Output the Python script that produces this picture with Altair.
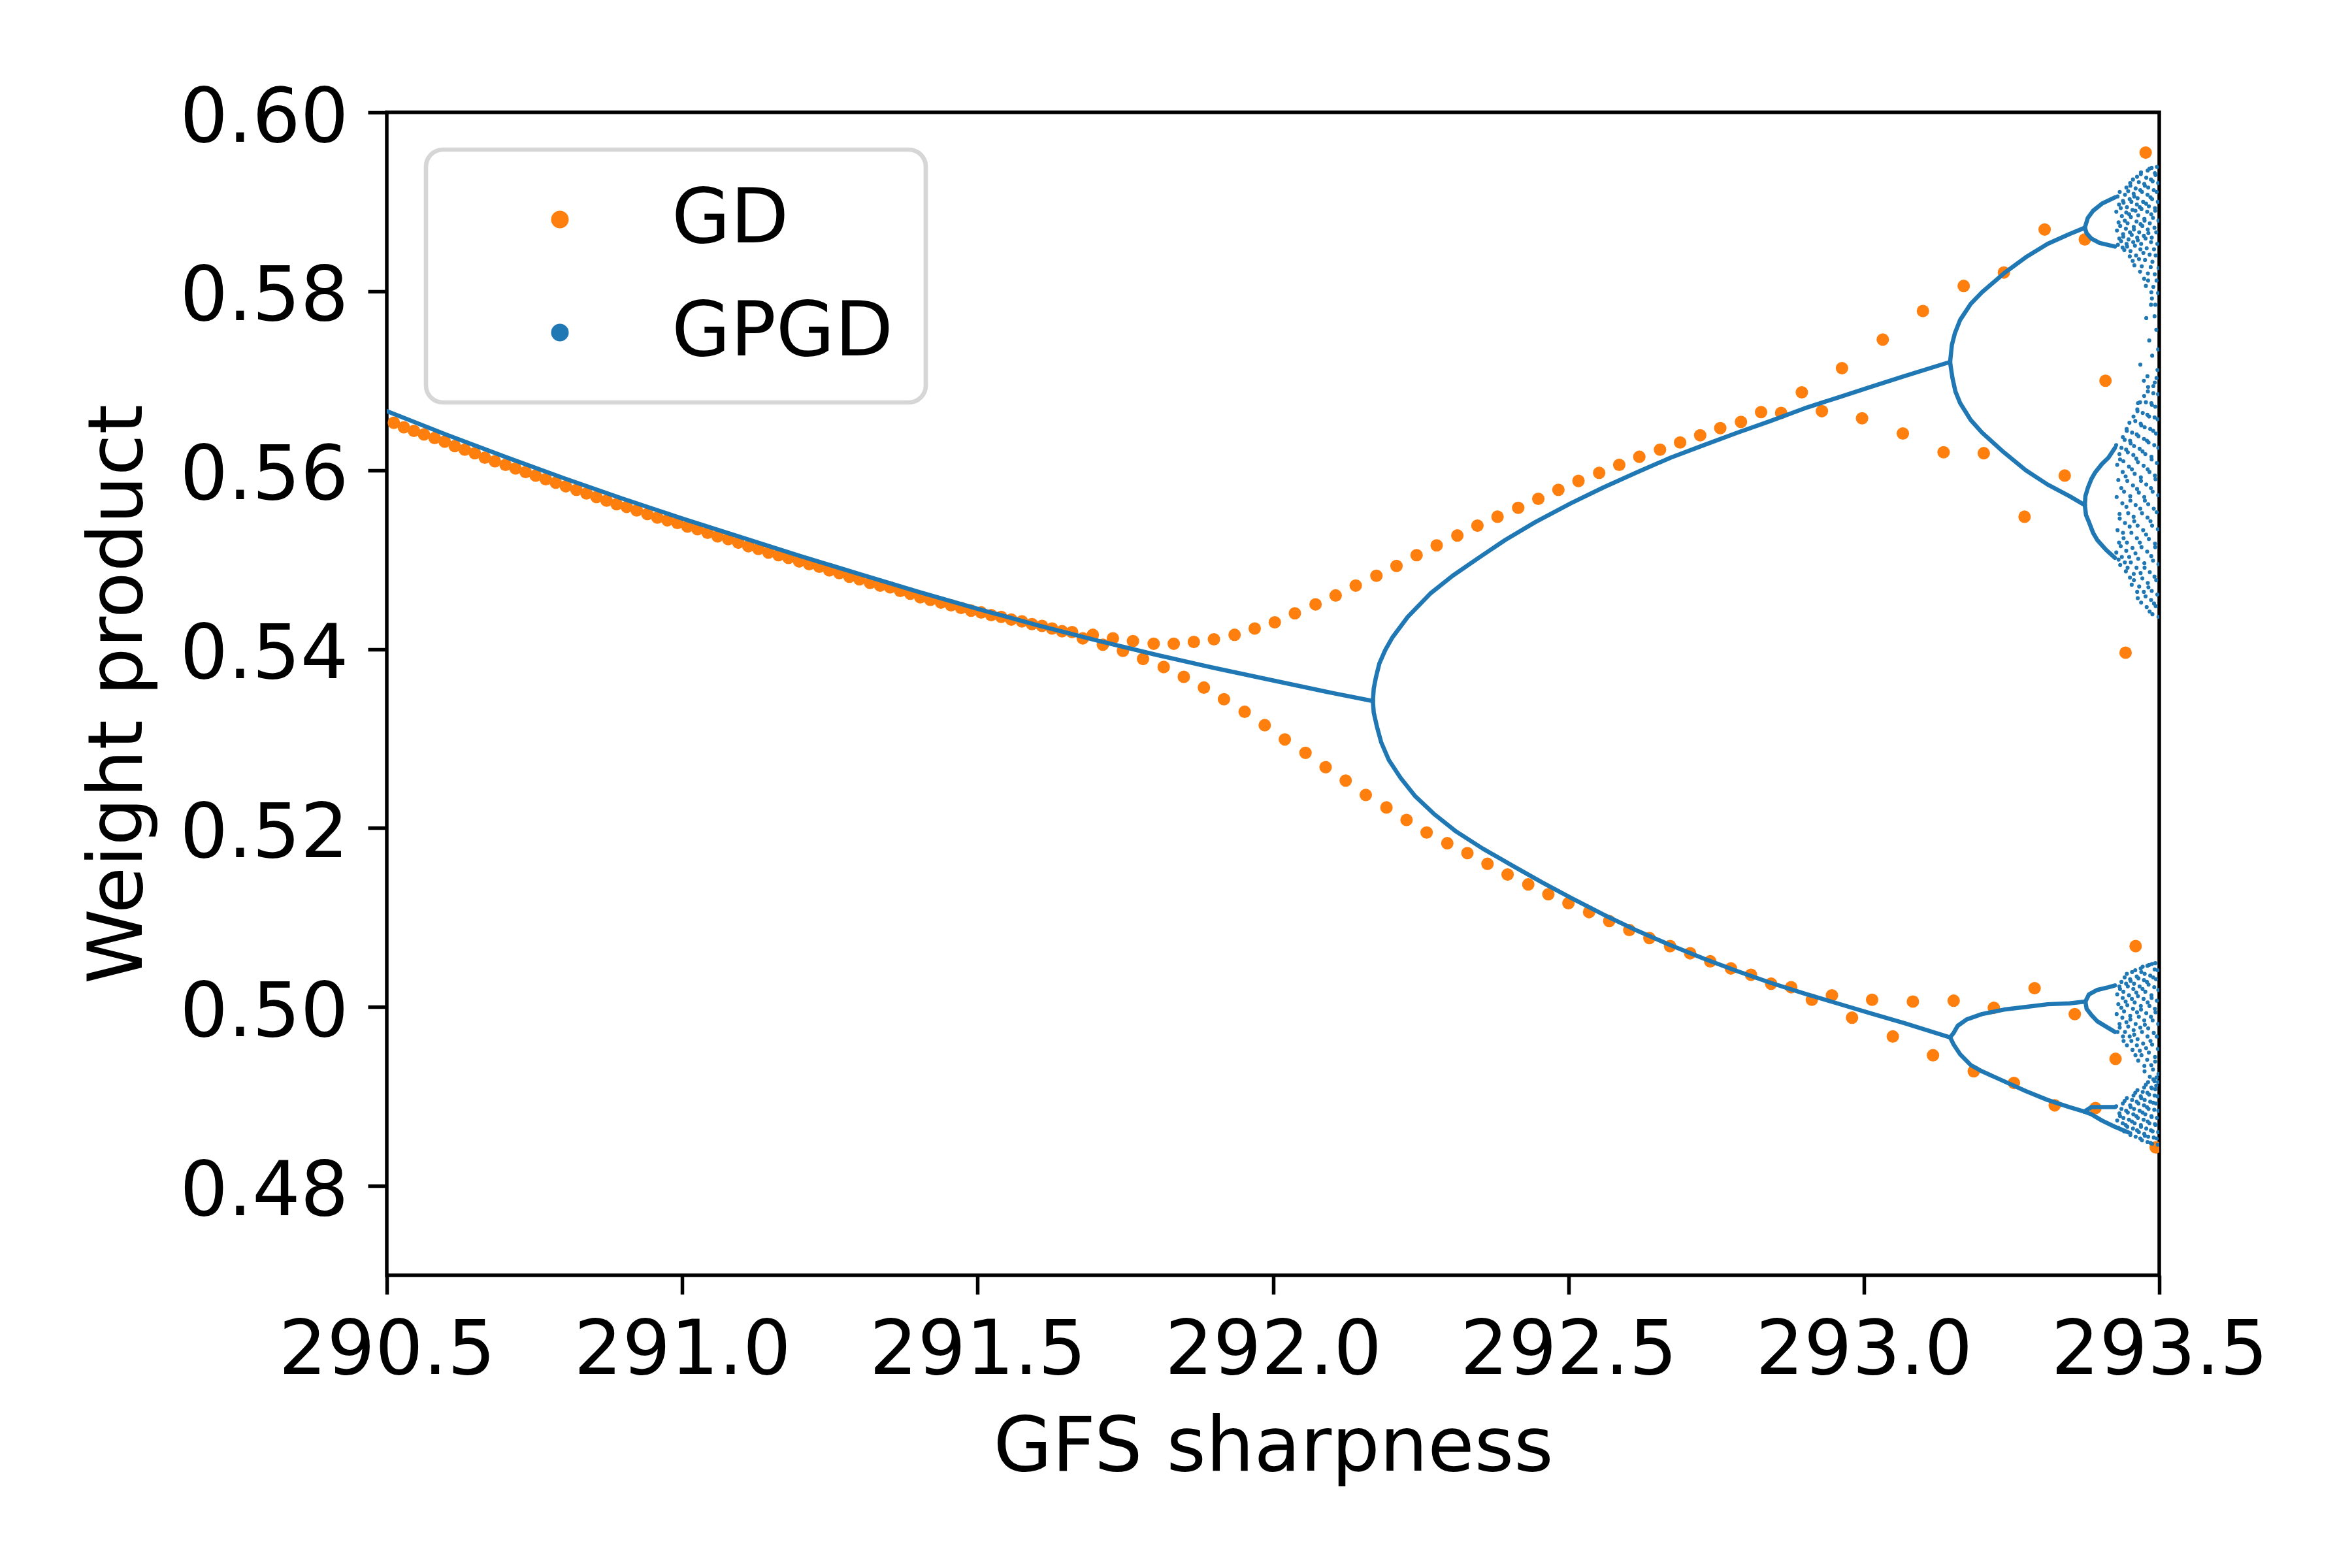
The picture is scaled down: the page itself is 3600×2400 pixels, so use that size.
import altair as alt
import pandas as pd

# ---------------- GD (orange) ----------------
GD_X = [290.512, 290.529, 290.546, 290.563, 290.581, 290.598, 290.615, 290.632, 290.649, 290.666,
        290.683, 290.701, 290.718, 290.735, 290.752, 290.769, 290.786, 290.803, 290.821, 290.838,
        290.855, 290.872, 290.889, 290.906, 290.923, 290.941, 290.958, 290.975, 290.992, 291.009,
        291.026, 291.043, 291.060, 291.078, 291.095, 291.112, 291.129, 291.146, 291.163, 291.180,
        291.198, 291.215, 291.232, 291.249, 291.266, 291.283, 291.300, 291.318, 291.335, 291.352,
        291.369, 291.386, 291.403, 291.420, 291.438, 291.455, 291.472, 291.489, 291.506, 291.523,
        291.540, 291.557, 291.575, 291.592, 291.609, 291.626, 291.643, 291.660, 291.678, 291.695,
        291.712, 291.729, 291.746, 291.763, 291.780, 291.798, 291.815, 291.832, 291.849, 291.866,
        291.883, 291.900, 291.917, 291.935, 291.952, 291.969, 291.986, 292.003, 292.020, 292.037,
        292.055, 292.072, 292.089, 292.106, 292.123, 292.140, 292.157, 292.175, 292.192, 292.209,
        292.226, 292.243, 292.260, 292.277, 292.295, 292.312, 292.329, 292.346, 292.363, 292.380,
        292.397, 292.415, 292.432, 292.449, 292.466, 292.483, 292.500, 292.517, 292.535, 292.552,
        292.569, 292.586, 292.603, 292.620, 292.637, 292.655, 292.672, 292.689, 292.706, 292.723,
        292.740, 292.757, 292.775, 292.792, 292.809, 292.826, 292.843, 292.860, 292.877, 292.895,
        292.912, 292.929, 292.946, 292.963, 292.980, 292.997, 293.014, 293.032, 293.049, 293.066,
        293.083, 293.100, 293.117, 293.135, 293.152, 293.169, 293.186, 293.203, 293.220, 293.237,
        293.254, 293.272, 293.289, 293.306, 293.323, 293.340, 293.357, 293.374, 293.392, 293.409,
        293.426, 293.443, 293.460, 293.477, 293.494]
GD_Y = [0.5653, 0.5648, 0.5644, 0.5640, 0.5636, 0.5632, 0.5627, 0.5623, 0.5619, 0.5614,
        0.5610, 0.5606, 0.5602, 0.5598, 0.5594, 0.5590, 0.5586, 0.5582, 0.5578, 0.5574,
        0.5570, 0.5566, 0.5562, 0.5559, 0.5555, 0.5551, 0.5547, 0.5544, 0.5541, 0.5537,
        0.5534, 0.5530, 0.5526, 0.5523, 0.5519, 0.5515, 0.5512, 0.5508, 0.5505, 0.5502,
        0.5498, 0.5495, 0.5492, 0.5488, 0.5485, 0.5481, 0.5478, 0.5474, 0.5471, 0.5469,
        0.5465, 0.5462, 0.5458, 0.5455, 0.5452, 0.5449, 0.5446, 0.5443, 0.5441, 0.5438,
        0.5436, 0.5433, 0.5431, 0.5428, 0.5426, 0.5423, 0.5420, 0.5419, 0.5412, 0.5416,
        0.5405, 0.5412, 0.5398, 0.5409, 0.5389, 0.5406, 0.5380, 0.5406, 0.5369, 0.5408,
        0.5357, 0.5411, 0.5344, 0.5416, 0.5330, 0.5423, 0.5315, 0.5430, 0.5299, 0.5440,
        0.5284, 0.5450, 0.5268, 0.5460, 0.5253, 0.5471, 0.5237, 0.5482, 0.5223, 0.5493,
        0.5209, 0.5505, 0.5195, 0.5516, 0.5183, 0.5527, 0.5172, 0.5538, 0.5160, 0.5548,
        0.5148, 0.5558, 0.5137, 0.5568, 0.5126, 0.5578, 0.5116, 0.5588, 0.5106, 0.5597,
        0.5096, 0.5606, 0.5086, 0.5615, 0.5077, 0.5623, 0.5068, 0.5631, 0.5060, 0.5639,
        0.5051, 0.5647, 0.5043, 0.5654, 0.5036, 0.5665, 0.5026, 0.5664, 0.5022, 0.5687,
        0.5008, 0.5666, 0.5013, 0.5714, 0.4988, 0.5658, 0.5008, 0.5746, 0.4967, 0.5641,
        0.5006, 0.5778, 0.4946, 0.5620, 0.5007, 0.5806, 0.4928, 0.5619, 0.4999, 0.5821,
        0.4915, 0.5548, 0.5021, 0.5869, 0.4890, 0.5594, 0.4992, 0.5858, 0.4887, 0.5700,
        0.4942, 0.5396, 0.5068, 0.5955, 0.4843]

# ---------------- GPGD (blue) branches ----------------
STEM_X = [290.50, 290.60, 290.70, 290.80, 290.90, 291.00, 291.10, 291.20, 291.30, 291.40,
          291.50, 291.60, 291.70, 291.80, 291.90, 292.00, 292.10, 292.169]
STEM_Y = [0.5666, 0.5640, 0.5615, 0.5591, 0.5568, 0.5546, 0.5525, 0.5504, 0.5484, 0.5464,
          0.5445, 0.5427, 0.5410, 0.5394, 0.5379, 0.5365, 0.5351, 0.5342]
U_X = [292.169, 292.1705, 292.174, 292.180, 292.190, 292.202, 292.228, 292.266, 292.304, 292.348,
       292.393, 292.444, 292.504, 292.560, 292.617, 292.673, 292.729, 292.786, 292.842, 292.899,
       292.955, 293.011, 293.068, 293.146]
U_Y = [0.5342, 0.5356, 0.5368, 0.5384, 0.5399, 0.5413, 0.5436, 0.5462, 0.5482, 0.5502,
       0.5522, 0.5542, 0.5563, 0.5581, 0.5598, 0.5614, 0.5628, 0.5642, 0.5655, 0.5669,
       0.5681, 0.5693, 0.5705, 0.5721]
L_X = [292.169, 292.1705, 292.176, 292.183, 292.196, 292.216, 292.240, 292.272, 292.310, 292.355,
       292.405, 292.456, 292.504, 292.560, 292.617, 292.673, 292.729, 292.786, 292.842, 292.899,
       292.955, 293.011, 293.068, 293.146]
L_Y = [0.5342, 0.5329, 0.5313, 0.5296, 0.5276, 0.5256, 0.5236, 0.5216, 0.5196, 0.5177,
       0.5158, 0.5139, 0.5122, 0.5103, 0.5085, 0.5069, 0.5054, 0.5040, 0.5027, 0.5015,
       0.5004, 0.4993, 0.4982, 0.4966]
UU_X = [293.146, 293.149, 293.154, 293.163, 293.181, 293.200, 293.237, 293.274, 293.311, 293.348, 293.374]
UU_Y = [0.5721, 0.5740, 0.5753, 0.5768, 0.5786, 0.5799, 0.5820, 0.5838, 0.5853, 0.5864, 0.5871]
UL_X = [293.146, 293.147, 293.150, 293.155, 293.163, 293.181, 293.200, 293.237, 293.274, 293.311, 293.348, 293.374]
UL_Y = [0.5721, 0.5716, 0.5703, 0.5688, 0.5675, 0.5656, 0.5642, 0.5620, 0.5600, 0.5584, 0.5571, 0.5561]
LU_X = [293.146, 293.152, 293.159, 293.174, 293.200, 293.237, 293.274, 293.311, 293.348, 293.375]
LU_Y = [0.4966, 0.4971, 0.4979, 0.4986, 0.4992, 0.4997, 0.5000, 0.5003, 0.5004, 0.5006]
LL_X = [293.146, 293.152, 293.163, 293.181, 293.200, 293.237, 293.274, 293.311, 293.348, 293.373]
LL_Y = [0.4966, 0.4958, 0.4947, 0.4935, 0.4928, 0.4917, 0.4906, 0.4896, 0.4888, 0.4883]
UUU_X = [293.374, 293.379, 293.388, 293.403, 293.425]
UUU_Y = [0.5871, 0.5882, 0.5890, 0.5898, 0.5905]
UUL_X = [293.374, 293.377, 293.385, 293.399, 293.425]
UUL_Y = [0.5871, 0.5865, 0.5859, 0.5854, 0.5850]
ULU_X = [293.374, 293.375, 293.379, 293.385, 293.391, 293.403, 293.414, 293.425]
ULU_Y = [0.5561, 0.5571, 0.5580, 0.5590, 0.5597, 0.5607, 0.5614, 0.5625]
ULL_X = [293.374, 293.376, 293.381, 293.388, 293.395, 293.410, 293.425]
ULL_Y = [0.5561, 0.5550, 0.5542, 0.5530, 0.5522, 0.5511, 0.5502]
LUU_X = [293.375, 293.381, 293.395, 293.414, 293.425]
LUU_Y = [0.5006, 0.5014, 0.5019, 0.5022, 0.5024]
LUL_X = [293.375, 293.377, 293.385, 293.395, 293.410, 293.425]
LUL_Y = [0.5006, 0.4998, 0.4991, 0.4984, 0.4978, 0.4972]
LLU_X = [293.373, 293.385, 293.403, 293.425]
LLU_Y = [0.4883, 0.4888, 0.4888, 0.4888]
LLL_X = [293.373, 293.385, 293.403, 293.425, 293.447]
LLL_Y = [0.4883, 0.4880, 0.4873, 0.4866, 0.4860]

# ---------------- GPGD chaotic region (columns of points, read per column) ----------------
CHAOS_COLS = [293.430, 293.436, 293.442, 293.448, 293.454, 293.460,
              293.466, 293.472, 293.478, 293.484, 293.490, 293.496]
# small hand-set horizontal spread of the points inside each column
CHAOS_DX = [0.0000, 0.0024, -0.0016, 0.0011, -0.0027, 0.0019, -0.0006, 0.0028,
            -0.0021, 0.0007, -0.0012, 0.0026, -0.0029, 0.0015, -0.0003, 0.0021, -0.0024]
BAND_A = [
    [0.5852, 0.5859, 0.5868, 0.5877, 0.5889, 0.5897, 0.5906],
    [0.5849, 0.5856, 0.5864, 0.5873, 0.5884, 0.5893, 0.5901, 0.5911],
    [0.5846, 0.5853, 0.5861, 0.5870, 0.5879, 0.5888, 0.5899, 0.5908, 0.5916],
    [0.5839, 0.5850, 0.5858, 0.5866, 0.5876, 0.5886, 0.5894, 0.5903, 0.5912, 0.5921],
    [0.5834, 0.5845, 0.5855, 0.5863, 0.5872, 0.5883, 0.5891, 0.5900, 0.5909, 0.5918, 0.5925],
    [0.5829, 0.5840, 0.5851, 0.5860, 0.5869, 0.5878, 0.5890, 0.5897, 0.5906, 0.5915, 0.5928],
    [0.5822, 0.5836, 0.5847, 0.5857, 0.5866, 0.5875, 0.5885, 0.5894, 0.5904, 0.5913, 0.5922, 0.5931],
    [0.5814, 0.5828, 0.5843, 0.5853, 0.5862, 0.5873, 0.5881, 0.5892, 0.5900, 0.5911, 0.5920, 0.5933],
    [0.5806, 0.5820, 0.5835, 0.5848, 0.5859, 0.5869, 0.5879, 0.5889, 0.5898, 0.5908, 0.5918, 0.5927, 0.5935],
    [0.5799, 0.5812, 0.5827, 0.5841, 0.5855, 0.5865, 0.5876, 0.5886, 0.5895, 0.5905, 0.5916, 0.5925, 0.5937],
    [0.5792, 0.5805, 0.5819, 0.5833, 0.5847, 0.5860, 0.5871, 0.5882, 0.5893, 0.5903, 0.5913, 0.5923, 0.5932, 0.5938],
    [0.5785, 0.5798, 0.5812, 0.5826, 0.5840, 0.5853, 0.5866, 0.5879, 0.5890, 0.5900, 0.5911, 0.5921, 0.5930, 0.5939],
]
BAND_B_X = [293.468, 293.478, 293.483, 293.488, 293.492, 293.495, 293.498, 293.486, 293.474, 293.464, 293.480, 293.497, 293.490]
BAND_B_Y = [0.5718, 0.5770, 0.5745, 0.5728, 0.5772, 0.5757, 0.5735, 0.5785, 0.5700, 0.5675, 0.5705, 0.5712, 0.5694]
BAND_C = [
    [0.5500, 0.5508, 0.5519, 0.5533, 0.5551, 0.5570, 0.5589, 0.5606, 0.5618, 0.5628],
    [0.5494, 0.5503, 0.5515, 0.5530, 0.5546, 0.5563, 0.5580, 0.5598, 0.5612, 0.5625, 0.5637],
    [0.5487, 0.5497, 0.5510, 0.5524, 0.5541, 0.5559, 0.5576, 0.5593, 0.5610, 0.5623, 0.5634, 0.5646],
    [0.5480, 0.5491, 0.5503, 0.5519, 0.5537, 0.5552, 0.5571, 0.5588, 0.5604, 0.5620, 0.5633, 0.5644, 0.5653],
    [0.5472, 0.5484, 0.5497, 0.5513, 0.5530, 0.5548, 0.5566, 0.5583, 0.5601, 0.5617, 0.5630, 0.5642, 0.5660],
    [0.5464, 0.5477, 0.5491, 0.5507, 0.5524, 0.5543, 0.5561, 0.5579, 0.5596, 0.5613, 0.5627, 0.5640, 0.5655, 0.5668],
    [0.5457, 0.5470, 0.5485, 0.5501, 0.5519, 0.5538, 0.5557, 0.5575, 0.5592, 0.5609, 0.5624, 0.5638, 0.5652, 0.5666, 0.5676],
    [0.5452, 0.5464, 0.5479, 0.5496, 0.5514, 0.5533, 0.5552, 0.5570, 0.5588, 0.5605, 0.5621, 0.5635, 0.5650, 0.5664, 0.5683],
    [0.5447, 0.5459, 0.5474, 0.5491, 0.5509, 0.5528, 0.5547, 0.5566, 0.5584, 0.5601, 0.5618, 0.5633, 0.5648, 0.5662, 0.5676, 0.5688],
    [0.5442, 0.5455, 0.5469, 0.5486, 0.5504, 0.5523, 0.5543, 0.5562, 0.5580, 0.5598, 0.5615, 0.5631, 0.5646, 0.5660, 0.5675, 0.5693],
    [0.5439, 0.5451, 0.5465, 0.5481, 0.5499, 0.5518, 0.5538, 0.5557, 0.5576, 0.5594, 0.5612, 0.5628, 0.5644, 0.5659, 0.5673, 0.5686, 0.5698],
    [0.5436, 0.5448, 0.5461, 0.5477, 0.5495, 0.5514, 0.5534, 0.5553, 0.5572, 0.5590, 0.5608, 0.5625, 0.5641, 0.5657, 0.5671, 0.5685, 0.5703],
]
BAND_D = [
    [0.4972, 0.4981, 0.4992, 0.5003, 0.5014, 0.5023],
    [0.4967, 0.4977, 0.4988, 0.4999, 0.5010, 0.5020, 0.5028],
    [0.4962, 0.4972, 0.4983, 0.4995, 0.5006, 0.5017, 0.5026, 0.5033],
    [0.4957, 0.4967, 0.4978, 0.4990, 0.5002, 0.5013, 0.5023, 0.5031, 0.5037],
    [0.4952, 0.4962, 0.4974, 0.4986, 0.4998, 0.5009, 0.5020, 0.5029, 0.5039],
    [0.4946, 0.4957, 0.4969, 0.4981, 0.4994, 0.5005, 0.5016, 0.5026, 0.5034, 0.5041],
    [0.4940, 0.4951, 0.4964, 0.4977, 0.4989, 0.5001, 0.5012, 0.5023, 0.5032, 0.5043],
    [0.4934, 0.4946, 0.4959, 0.4972, 0.4985, 0.4997, 0.5009, 0.5020, 0.5030, 0.5039, 0.5045],
    [0.4928, 0.4941, 0.4954, 0.4967, 0.4980, 0.4993, 0.5005, 0.5017, 0.5028, 0.5037, 0.5046],
    [0.4922, 0.4935, 0.4949, 0.4962, 0.4976, 0.4989, 0.5001, 0.5013, 0.5025, 0.5035, 0.5047],
    [0.4917, 0.4930, 0.4944, 0.4958, 0.4971, 0.4985, 0.4998, 0.5010, 0.5022, 0.5033, 0.5042, 0.5048],
    [0.4912, 0.4925, 0.4939, 0.4953, 0.4967, 0.4981, 0.4994, 0.5007, 0.5019, 0.5031, 0.5041, 0.5049],
]
BAND_E = [
    [0.4865, 0.4873, 0.4881, 0.4889],
    [0.4863, 0.4870, 0.4878, 0.4886, 0.4892],
    [0.4861, 0.4868, 0.4876, 0.4884, 0.4895],
    [0.4859, 0.4866, 0.4874, 0.4882, 0.4890, 0.4898],
    [0.4857, 0.4864, 0.4872, 0.4880, 0.4888, 0.4896, 0.4901],
    [0.4855, 0.4862, 0.4870, 0.4878, 0.4886, 0.4894, 0.4904],
    [0.4853, 0.4860, 0.4868, 0.4876, 0.4884, 0.4892, 0.4900, 0.4907],
    [0.4851, 0.4858, 0.4866, 0.4874, 0.4882, 0.4890, 0.4898, 0.4905, 0.4910],
    [0.4849, 0.4856, 0.4864, 0.4872, 0.4880, 0.4888, 0.4896, 0.4904, 0.4913],
    [0.4848, 0.4855, 0.4862, 0.4870, 0.4878, 0.4886, 0.4894, 0.4902, 0.4910, 0.4916],
    [0.4847, 0.4854, 0.4861, 0.4869, 0.4877, 0.4885, 0.4893, 0.4901, 0.4909, 0.4919],
    [0.4846, 0.4853, 0.4860, 0.4868, 0.4876, 0.4884, 0.4892, 0.4900, 0.4908, 0.4916, 0.4921],
]

X_TICKS = [290.5, 291.0, 291.5, 292.0, 292.5, 293.0, 293.5]
Y_TICKS = [0.48, 0.50, 0.52, 0.54, 0.56, 0.58, 0.60]
SERIES = ["GD", "GPGD"]
COLORS = ["#ff7f0e", "#1f77b4"]
FONT = "DejaVu Sans"

# ---------------- tables ----------------
gd = pd.DataFrame({"x": GD_X, "y": GD_Y, "series": "GD"})

branches = {
    "stem": (STEM_X, STEM_Y), "U": (U_X, U_Y), "L": (L_X, L_Y),
    "UU": (UU_X, UU_Y), "UL": (UL_X, UL_Y), "LU": (LU_X, LU_Y), "LL": (LL_X, LL_Y),
    "UUU": (UUU_X, UUU_Y), "UUL": (UUL_X, UUL_Y), "ULU": (ULU_X, ULU_Y), "ULL": (ULL_X, ULL_Y),
    "LUU": (LUU_X, LUU_Y), "LUL": (LUL_X, LUL_Y), "LLU": (LLU_X, LLU_Y), "LLL": (LLL_X, LLL_Y),
}
line_rows = []
for name, (xs, ys) in branches.items():
    for i, (xv, yv) in enumerate(zip(xs, ys)):
        line_rows.append({"x": xv, "y": yv, "branch": name, "order": i})
lines = pd.DataFrame(line_rows)

chaos_rows = []
for b, band in enumerate((BAND_A, BAND_C, BAND_D, BAND_E)):
    for c, (cx, ys) in enumerate(zip(CHAOS_COLS, band)):
        for i, yv in enumerate(ys):
            dx = CHAOS_DX[(i + 5 * c + 3 * b) % len(CHAOS_DX)]
            chaos_rows.append({"x": min(cx + dx, 293.499), "y": yv})
for xv, yv in zip(BAND_B_X, BAND_B_Y):
    chaos_rows.append({"x": xv, "y": yv})
chaos = pd.DataFrame(chaos_rows)

# ---------------- scales / axes ----------------
xscale = alt.Scale(domain=[290.5, 293.5], nice=False, zero=False)
yscale = alt.Scale(domain=[0.47, 0.60], nice=False, zero=False)

xaxis = alt.Axis(title="GFS sharpness", values=X_TICKS, format=".1f",
                 labelFlush=False, labelOverlap=False, labelPadding=29, labelLimit=2000,
                 titleY=298, titleBaseline="alphabetic")
yaxis = alt.Axis(title="Weight product", values=Y_TICKS, format=".2f",
                 labelFlush=False, labelOverlap=False, labelPadding=30, labelOffset=9,
                 labelLimit=2000,
                 titleX=-376, titleY=890, titleAngle=270, titleBaseline="alphabetic",
                 titleAlign="center")

X = alt.X("x:Q", scale=xscale, axis=xaxis)
Y = alt.Y("y:Q", scale=yscale, axis=yaxis)

gd_layer = alt.Chart(gd).mark_circle(size=365, opacity=1, clip=True).encode(
    x=X, y=Y,
    color=alt.Color("series:N",
                    scale=alt.Scale(domain=SERIES, range=COLORS),
                    legend=alt.Legend(title=None, orient="none", legendX=60, legendY=57,
                                      symbolType="circle", symbolSize=729,
                                      symbolOffset=98, labelOffset=113,
                                      labelLimit=2000, rowPadding=57, padding=49,
                                      symbolOpacity=1, symbolStrokeWidth=0)),
)

line_layer = alt.Chart(lines).mark_line(color=COLORS[1], strokeWidth=6.5, clip=True,
                                        strokeCap="round", strokeJoin="round").encode(
    x=X, y=Y, detail="branch:N", order="order:Q"
)

chaos_layer = alt.Chart(chaos).mark_circle(color=COLORS[1], size=38, opacity=1, clip=True).encode(
    x=X, y=Y
)

chart = alt.layer(gd_layer, line_layer, chaos_layer).properties(
    width=2713, height=1780,
    autosize=alt.AutoSizeParams(type="none"),
    padding={"left": 584, "top": 164, "right": 287, "bottom": 440},
).configure_view(
    stroke="black", strokeWidth=5.5
).configure_axis(
    domain=False, grid=False, ticks=True, tickSize=29, tickWidth=5.5, tickColor="black",
    labelFont=FONT, labelFontSize=116, labelColor="black",
    titleFont=FONT, titleFontSize=116, titleFontWeight="normal", titleColor="black",
).configure_legend(
    labelFont=FONT, labelFontSize=116, labelColor="black",
    strokeColor="#d6d6d6", strokeWidth=6.7, fillColor="white", cornerRadius=26,
)

chart.save("out.html", embed_options={"renderer": "svg", "actions": False})
